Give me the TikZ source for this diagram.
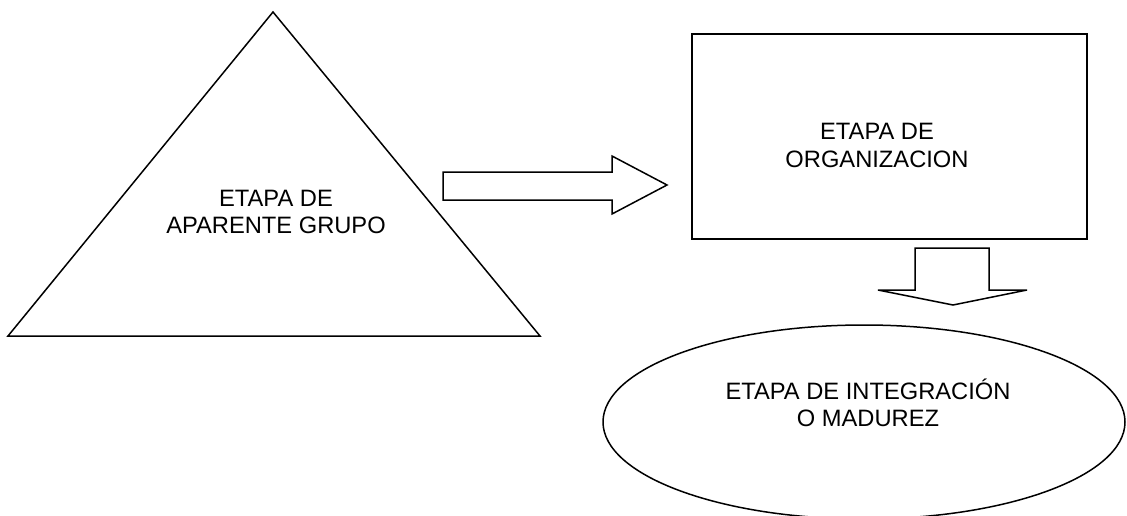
\documentclass[tikz,border=0pt]{standalone}
\usepackage{fontspec}
\setmainfont{Liberation Sans}
\begin{document}
\begin{tikzpicture}[x=1pt,y=-1pt,
  shapeline/.style={draw=black, line width=1.5pt, line join=miter},
  labeltext/.style={font=\fontsize{23.7}{27.5}\selectfont, align=center, inner sep=0pt}]
\useasboundingbox (0,0) rectangle (1127,516);
% triangle
\draw[shapeline] (273,12) -- (540,336) -- (8,336) -- cycle;
\node[labeltext] (tri) at (276,212) {ETAPA DE\\APARENTE GRUPO};
% rectangle
\draw[shapeline] (692,34) rectangle (1087,239);
\node[labeltext] (org) at (877,145.5) {ETAPA DE\\ORGANIZACION};
% ellipse
\draw[shapeline] (864,422) ellipse [x radius=261, y radius=97];
\node[labeltext] (int) at (868,403) {ETAPA DE INTEGRACIÓN\\O MADUREZ};
% block arrow right
\draw[shapeline] (443,172) -- (612,172) -- (612,156) -- (667,185) -- (612,214) -- (612,200) -- (443,200) -- cycle;
% block arrow down
\draw[shapeline] (915,248) -- (989,248) -- (989,290) -- (1027,290) -- (953,305) -- (878,290) -- (915,290) -- cycle;
\end{tikzpicture}
\end{document}
